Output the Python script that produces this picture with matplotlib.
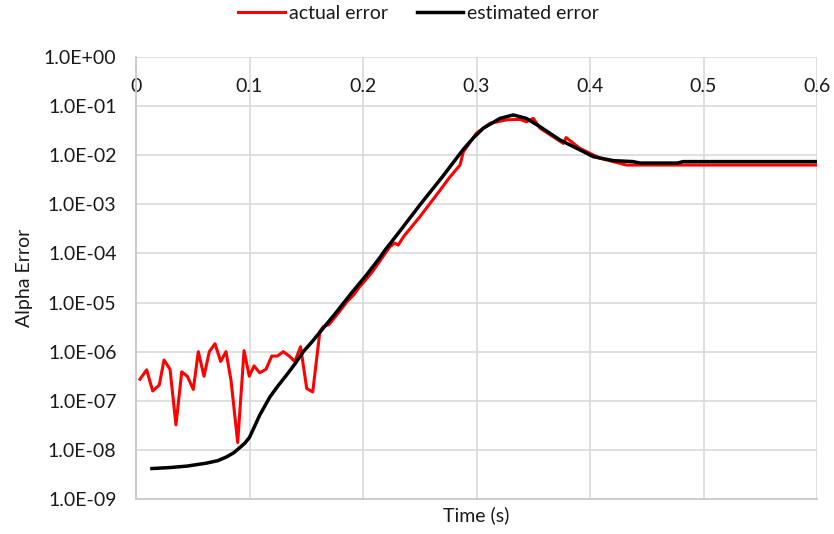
import matplotlib
matplotlib.use("Agg")
import matplotlib.pyplot as plt
import numpy as np
from matplotlib.ticker import FixedLocator, FuncFormatter, NullLocator

plt.rcParams['font.family'] = ['Lato', 'DejaVu Sans']

# actual alpha error (red)
actual_t = [0.0035, 0.0094, 0.0147, 0.0205, 0.0247, 0.0300, 0.0352, 0.0403, 0.0452,
            0.0505, 0.0549, 0.0599, 0.0646, 0.0696, 0.0746, 0.0793, 0.0837, 0.0896,
            0.0952, 0.0998, 0.104, 0.109, 0.1145, 0.1196, 0.1245, 0.1298, 0.135,
            0.140, 0.145, 0.1504, 0.1557, 0.1620, 0.1650, 0.170, 0.178, 0.186,
            0.1915, 0.197, 0.203, 0.209, 0.215, 0.2238, 0.228, 0.231, 0.236, 0.2502,
            0.268, 0.276, 0.2855, 0.2884, 0.300, 0.312, 0.3266, 0.3383, 0.344, 0.350,
            0.356, 0.3765, 0.379, 0.391, 0.4088, 0.432, 0.60]
actual_err = [2.75e-7, 4.27e-7, 1.58e-7, 2.09e-7, 6.76e-7, 4.37e-7, 3.24e-8, 3.89e-7,
              3.16e-7, 1.70e-7, 1.00e-6, 3.16e-7, 1.00e-6, 1.45e-6, 6.31e-7, 1.00e-6,
              2.63e-7, 1.41e-8, 1.05e-6, 3.16e-7, 5.13e-7, 3.72e-7, 4.37e-7, 8.13e-7,
              8.13e-7, 1.00e-6, 8.13e-7, 6.31e-7, 1.26e-6, 1.78e-7, 1.51e-7, 2.57e-6,
              3.24e-6, 3.55e-6, 6.03e-6, 1.05e-5, 1.41e-5, 2.09e-5, 3.02e-5, 4.47e-5,
              7.08e-5, 1.38e-4, 1.62e-4, 1.48e-4, 2.24e-4, 5.62e-4, 1.95e-3, 3.47e-3,
              6.31e-3, 1.17e-2, 2.82e-2, 4.47e-2, 5.25e-2, 5.37e-2, 4.79e-2, 5.62e-2,
              3.55e-2, 1.74e-2, 2.29e-2, 1.38e-2, 8.71e-3, 6.31e-3, 6.31e-3]

# estimated alpha error (black)
est_t = [0.014, 0.030, 0.045, 0.062, 0.072, 0.080, 0.086, 0.0916, 0.0960, 0.100,
         0.105, 0.109, 0.118, 0.125, 0.1327, 0.140, 0.1474, 0.155, 0.165, 0.175,
         0.190, 0.203, 0.215, 0.2194, 0.230, 0.2502, 0.2699, 0.2884, 0.2975, 0.306,
         0.3207, 0.3324, 0.344, 0.356, 0.3736, 0.391, 0.403, 0.4205, 0.438, 0.444,
         0.477, 0.482, 0.60]
est_err = [4.17e-9, 4.37e-9, 4.68e-9, 5.37e-9, 6.03e-9, 7.24e-9, 8.71e-9, 1.12e-8,
           1.38e-8, 1.80e-8, 3.20e-8, 5.10e-8, 1.20e-7, 2.00e-7, 3.35e-7, 5.62e-7,
           1.00e-6, 1.58e-6, 3.02e-6, 5.75e-6, 1.58e-5, 3.63e-5, 8.32e-5, 1.17e-4,
           2.40e-4, 9.77e-4, 3.63e-3, 1.32e-2, 2.29e-2, 3.55e-2, 5.62e-2, 6.61e-2,
           5.62e-2, 3.80e-2, 2.04e-2, 1.29e-2, 9.33e-3, 7.76e-3, 7.41e-3, 6.92e-3,
           6.92e-3, 7.41e-3, 7.41e-3]

x_ticks = [0, 0.1, 0.2, 0.3, 0.4, 0.5, 0.6]
x_tick_labels = ['0', '0.1', '0.2', '0.3', '0.4', '0.5', '0.6']
y_ticks = [1e-9, 1e-8, 1e-7, 1e-6, 1e-5, 1e-4, 1e-3, 1e-2, 1e-1, 1e0]

fig = plt.figure(figsize=(8.34, 5.34), dpi=100)
ax = fig.add_axes([136 / 834, 1 - 499 / 534, (817 - 136) / 834, (499 - 57) / 534])

grid_col = '#d9d9d9'
ax.plot(actual_t, actual_err, color='#ff0000', lw=2.2, label='actual error', zorder=3)
ax.plot(est_t, est_err, color='#000000', lw=2.5, label='estimated error', zorder=4)

ax.set_yscale('log')
ax.set_xlim(0, 0.6)
ax.set_ylim(1e-9, 1e0)

ax.yaxis.set_major_locator(FixedLocator(y_ticks))
ax.yaxis.set_minor_locator(NullLocator())
ax.yaxis.set_major_formatter(FuncFormatter(lambda v, p: '{:.1E}'.format(v)))
ax.set_xticks(x_ticks)
ax.set_xticklabels(x_tick_labels)

ax.xaxis.set_ticks_position('top')
ax.tick_params(axis='x', which='both', top=True, labeltop=True, bottom=False,
               labelbottom=False, length=0, pad=-27, labelsize=14, labelcolor='#1a1a1a')
ax.tick_params(axis='y', length=0, pad=14, labelsize=14, labelcolor='#1a1a1a')

ax.grid(True, which='major', color=grid_col, lw=1.2, zorder=0)
ax.set_axisbelow(True)
for side in ['left', 'bottom']:
    ax.spines[side].set_color('#c8c8c8')
    ax.spines[side].set_linewidth(1.3)
for side in ['top', 'right']:
    ax.spines[side].set_visible(False)

ax.set_xlabel('Time (s)', fontsize=14, labelpad=5, color='#1a1a1a')
ax.set_ylabel('Alpha Error', fontsize=14, labelpad=8, color='#1a1a1a')

fig.legend(loc='center', bbox_to_anchor=(0.502, 0.975), ncol=2, frameon=False,
           fontsize=14, handlelength=2.4, handletextpad=0.2, columnspacing=1.5,
           labelcolor='#1a1a1a')

fig.savefig('out.png', dpi=100)
